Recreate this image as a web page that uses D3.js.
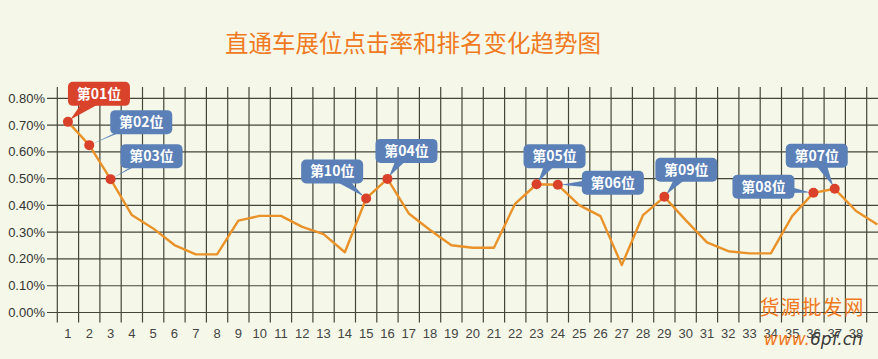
<!DOCTYPE html>
<html>
<head>
<meta charset="utf-8">
<script src="https://cdn.jsdelivr.net/npm/d3@7"></script>
<style>
  body { margin: 0; background: #f5f8e8; overflow: hidden; }
  .container { width: 878px; height: 359px; }
</style>
</head>
<body>
<div class="container"></div>
<script>
const title = "直通车展位点击率和排名变化趋势图"
const positions = d3.range(1, 40)          // 展位 1..39 (the last one is cut off)
const axisLabels = d3.range(1, 39)         // tick labels shown
const ctr = [0.712, 0.625, 0.498, 0.364, 0.314, 0.252, 0.217, 0.217, 0.343, 0.361,
             0.361, 0.320, 0.293, 0.225, 0.426, 0.499, 0.370, 0.308, 0.251, 0.242,
             0.242, 0.407, 0.479, 0.477, 0.401, 0.360, 0.177, 0.364, 0.432, 0.345,
             0.262, 0.229, 0.221, 0.221, 0.360, 0.447, 0.462, 0.379, 0.329]
const yTicks = [0, 0.1, 0.2, 0.3, 0.4, 0.5, 0.6, 0.7, 0.8]
// which position got which rank
const rankPos = [1, 2, 3, 16, 23, 24, 37, 36, 29, 15]
const rankText = ["第01位", "第02位", "第03位", "第04位", "第05位", "第06位", "第07位", "第08位", "第09位", "第10位"]
// callout box placement relative to its point: [dx, dy, pointer width]
const calloutPlace = [[31, -28, 18], [52, -23, 3], [41, -23, 3], [19, -28, 14], [18, -28, 14],
                      [55, -2, 14], [-18, -33, 14], [-50, -6, 14], [22, -27, 14], [-34, -27, 14]]

const width = 878
const height = 359

let svg = d3.select(".container")
    .append("svg")
    .attr("width", width)
    .attr("height", height)

svg.append("rect")
    .attr("width", width)
    .attr("height", height)
    .attr("fill", "#f5f8e8")

svg.append("text")
    .attr("x", 413)
    .attr("y", 52)
    .attr("text-anchor", "middle")
    .attr("fill", "#f07a22")
    .style("font-family", "'Noto Sans CJK SC', sans-serif")
    .style("font-size", "23.5px")
    .text(title)

let x = d3.scaleBand()
    .domain(positions)
    .range([57.3, 57.3 + 21.3 * positions.length])

let y = d3.scaleLinear()
    .domain([0, 0.8])
    .range([312.5, 98.3])

const gridColor = "#45453a"

// vertical grid lines (band edges), hanging 10px below the axis
let edges = positions.map(d => x(d))
svg.append("g")
    .selectAll("line")
    .data(edges)
    .enter()
    .append("line")
    .attr("x1", d => d)
    .attr("x2", d => d)
    .attr("y1", y(0.842))
    .attr("y2", y(0) + 10)
    .attr("stroke", gridColor)
    .attr("stroke-width", 1.2)

// horizontal grid lines with ticks to the left
svg.append("g")
    .selectAll("line")
    .data(yTicks)
    .enter()
    .append("line")
    .attr("x1", 47)
    .attr("x2", width)
    .attr("y1", d => y(d))
    .attr("y2", d => y(d))
    .attr("stroke", gridColor)
    .attr("stroke-width", 1.2)

svg.append("g")
    .selectAll("text")
    .data(yTicks)
    .enter()
    .append("text")
    .attr("x", 45)
    .attr("y", d => y(d) + 4.5)
    .attr("text-anchor", "end")
    .attr("fill", "#333")
    .style("font-family", "'Liberation Sans', Arial, sans-serif")
    .style("font-size", "13px")
    .text(d => d3.format(".2f")(d) + "%")

svg.append("g")
    .selectAll("text")
    .data(axisLabels)
    .enter()
    .append("text")
    .attr("x", d => x(d) + x.bandwidth() / 2)
    .attr("y", 338)
    .attr("text-anchor", "middle")
    .attr("fill", "#444")
    .style("font-family", "'Liberation Sans', Arial, sans-serif")
    .style("font-size", "13px")
    .text(d => d)

let cx = i => x(positions[i]) + x.bandwidth() / 2
let cy = i => y(ctr[i])

svg.append("path")
    .datum(ctr)
    .attr("fill", "none")
    .attr("stroke", "#e9922a")
    .attr("stroke-width", 2.4)
    .attr("stroke-linejoin", "round")
    .attr("d", d3.line().x((d, i) => cx(i)).y(d => y(d)))

// callouts
let callouts = rankPos.map((p, k) => {
    let i = positions.indexOf(p)
    return {
        label: rankText[k],
        px: cx(i), py: cy(i),
        bx: cx(i) + calloutPlace[k][0], by: cy(i) + calloutPlace[k][1],
        w: calloutPlace[k][2],
        color: k == 0 ? "#d9432b" : "#5b80b7"
    }
})

let cg = svg.append("g")
    .selectAll("g")
    .data(callouts)
    .enter()
    .append("g")

cg.append("path")
    .attr("fill", d => d.color)
    .attr("d", d => {
        let ang = Math.atan2(d.py - d.by, d.px - d.bx)
        let ox = -Math.sin(ang) * d.w / 2, oy = Math.cos(ang) * d.w / 2
        let ax = d.px - Math.cos(ang) * 3, ay = d.py - Math.sin(ang) * 3
        return `M${d.bx + ox},${d.by + oy}L${ax},${ay}L${d.bx - ox},${d.by - oy}Z`
    })

cg.append("rect")
    .attr("x", d => d.bx - 31)
    .attr("y", d => d.by - 12)
    .attr("width", 62)
    .attr("height", 24)
    .attr("rx", 5)
    .attr("fill", d => d.color)

cg.append("text")
    .attr("x", d => d.bx)
    .attr("y", d => d.by + 5)
    .attr("text-anchor", "middle")
    .attr("fill", "#fff")
    .style("font-family", "'Noto Sans CJK SC', sans-serif")
    .style("font-weight", "bold")
    .style("font-size", "14px")
    .text(d => d.label)

svg.append("g")
    .selectAll("circle")
    .data(callouts)
    .enter()
    .append("circle")
    .attr("cx", d => d.px)
    .attr("cy", d => d.py)
    .attr("r", 5)
    .attr("fill", "#d9412b")

// watermark in the corner
svg.append("text")
    .attr("x", 812)
    .attr("y", 315)
    .attr("text-anchor", "middle")
    .attr("fill", "#f07a22")
    .style("font-family", "'Noto Sans CJK SC', sans-serif")
    .style("font-size", "20px")
    .style("letter-spacing", "1px")
    .text("货源批发网")

let wm = svg.append("text")
    .attr("x", 764)
    .attr("y", 345)
    .style("font-family", "'DejaVu Sans', sans-serif")
    .style("font-size", "17px")
    .style("font-style", "italic")
wm.append("tspan").attr("fill", "#f07a22").text("www.")
wm.append("tspan").attr("fill", "#3a3a3a").text("6pf.cn")
</script>
</body>
</html>
